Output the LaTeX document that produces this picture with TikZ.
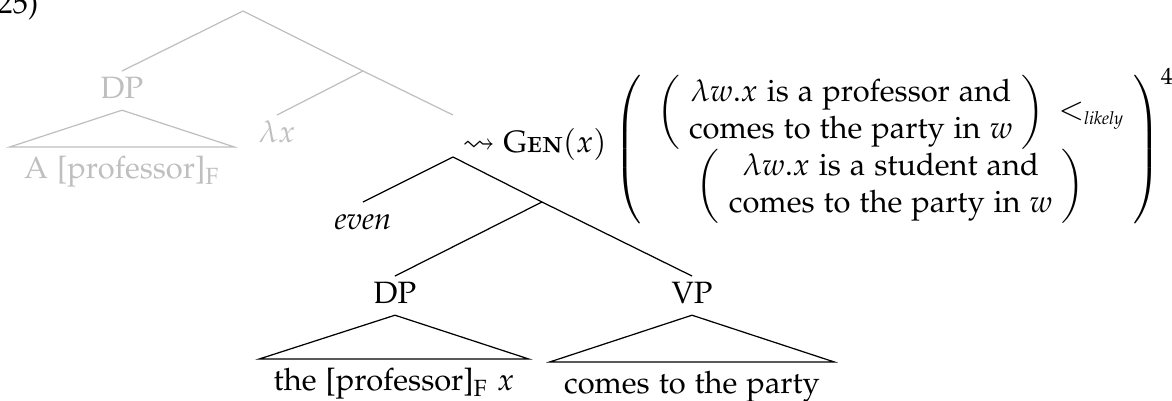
\documentclass[tikz,border=0pt]{standalone}
\usepackage[T1]{fontenc}
\usepackage[sc]{mathpazo}
\usepackage{amsmath,amssymb}
\DeclareSymbolFont{largesymbols}{OMX}{cmex}{m}{n}

\tikzset{
  treelab/.style={anchor=north,inner sep=2pt,text height=6.8pt,text depth=1.5pt},
  leaflab/.style={anchor=north,inner xsep=4.5pt,inner ysep=3pt,text height=7pt,text depth=2pt},
  faded/.style={color=gray!50},
}
\newcommand{\lesslikely}{<_{\mbox{\fontsize{5.8}{7}\selectfont\itshape likely}}}

\begin{document}
\begin{tikzpicture}[x=0.324pt,y=0.324pt,yscale=-1,xscale=1]
\useasboundingbox (0,0) rectangle (1172,400);

% Example number
\node[anchor=base east,inner sep=0pt] (exnum) at (39,13) {(25)};

%Tree: faded upper part
\coordinate (groot) at (243,11);
\coordinate (gmid) at (363,71);
\coordinate (genup) at (453,115);
\node[treelab,faded] (gdp) at (122,71) {DP};
\node[treelab,faded] (glam) at (277,115) {$\lambda x$};
\node[leaflab,faded] (gleaf) at (122,147) {A [professor]$_\mathrm{F}$};
\draw[faded] (groot) -- (gdp.north);
\draw[faded] (groot) -- (gmid);
\draw[faded] (gmid) -- (glam.north);
\draw[faded] (gmid) -- (genup);
\draw[faded] (gdp.south) -- (gleaf.north west) -- (gleaf.north east) -- cycle;

%Tree: black lower part
\coordinate (broot) at (453,157);
\coordinate (bmid) at (542,202);
\node[treelab] (even) at (363,202) {\textit{even}};
\node[treelab] (bdp) at (395,276) {DP};
\node[treelab] (bvp) at (692,276) {VP};
\node[leaflab] (bdpleaf) at (394,359) {the [professor]$_\mathrm{F}$ $x$};
\node[leaflab] (bvpleaf) at (692,362) {comes to the party};
\draw (broot) -- (even.north);
\draw (broot) -- (bmid);
\draw (bmid) -- (bdp.north);
\draw (bmid) -- (bvp.north);
\draw (bdp.south) -- (bdpleaf.north west) -- (bdpleaf.north east) -- cycle;
\draw (bvp.south) -- (bvpleaf.north west) -- (bvpleaf.north east) -- cycle;

% Text Nodes
\node[anchor=base west,inner sep=0pt] (gen) at (462,152) {$\leadsto \textsc{Gen}(x)$};
\node[anchor=base west,inner sep=0pt] (meaning) at (614,157) {$\left(\begin{array}{@{\hspace{5pt}}c@{\hspace{3pt}}}
  \left(\begin{array}{@{\hspace{3pt}}c@{\hspace{3pt}}}\lambda w.x\text{ is a professor and}\\ \text{comes to the party in }w\end{array}\right)\,\lesslikely\\[1pt]
  \left(\begin{array}{@{\hspace{3pt}}c@{\hspace{3pt}}}\lambda w.x\text{ is a student and}\\ \text{comes to the party in }w\end{array}\right)
  \end{array}\right)^4$};

\end{tikzpicture}
\end{document}
